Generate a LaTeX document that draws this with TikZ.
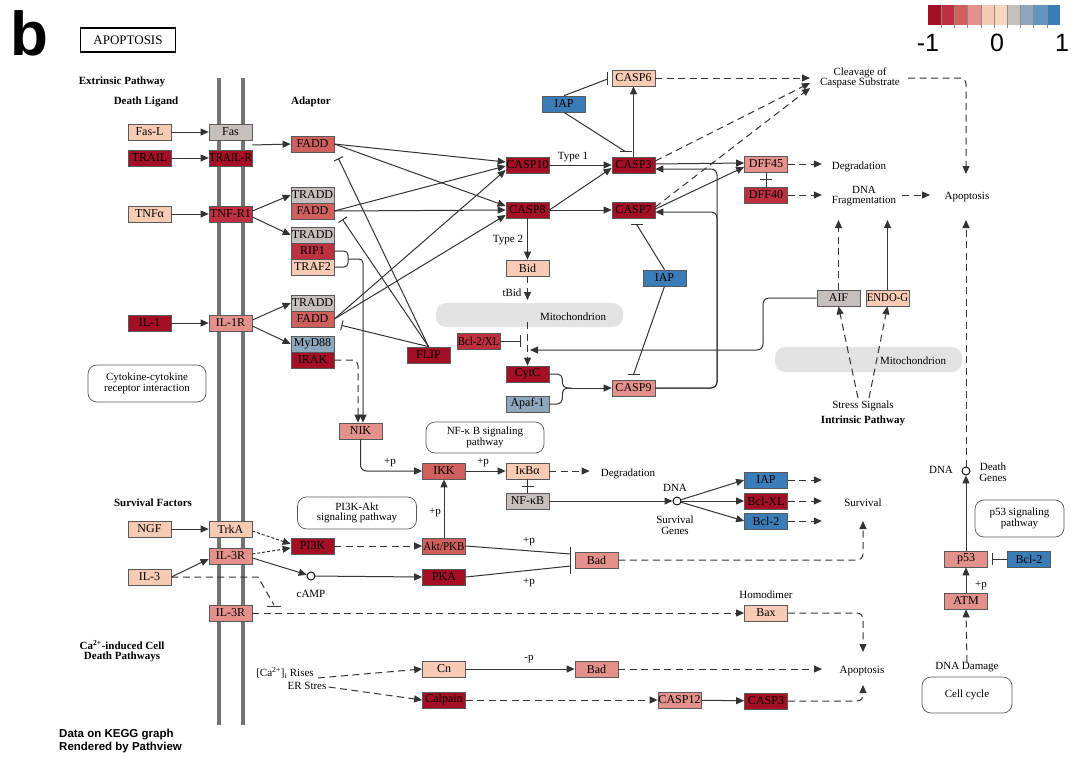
\documentclass[tikz,border=0pt]{standalone}
\usepackage{fontspec}
\usepackage{graphicx}
\setmainfont{Liberation Serif}
\newfontfamily\lsans{Liberation Sans}
\usetikzlibrary{arrows.meta,calc}
\definecolor{dk}{HTML}{A50F25}
\definecolor{r2}{HTML}{BE2F3F}
\definecolor{r3}{HTML}{D0605E}
\definecolor{r4}{HTML}{E3918A}
\definecolor{pe}{HTML}{F8CCB4}
\definecolor{pf}{HTML}{FAD5C2}
\definecolor{gy}{HTML}{C7BFBD}
\definecolor{gb}{HTML}{8EA7BC}
\definecolor{mb}{HTML}{6195C2}
\definecolor{bl}{HTML}{3A7DB8}
\definecolor{lk}{HTML}{333333}
\newcommand{\sq}[2]{\scalebox{#1}[1]{#2}}
\begin{document}
\begin{tikzpicture}[x=1pt,y=-1pt,
  gene/.style={draw=black!65, line width=0.7pt, minimum width=43pt, minimum height=16pt, inner sep=0pt, font=\fontsize{12}{12}\selectfont},
  lbl/.style={font=\fontsize{11}{10.5}\selectfont, inner sep=0pt, align=center},
  blbl/.style={font=\fontsize{11}{10.5}\selectfont\bfseries, inner sep=0pt, align=center},
  pathbox/.style={draw=black!65, line width=0.7pt, rounded corners=9pt, font=\fontsize{11}{10.5}\selectfont, align=center, inner sep=0pt},
  con/.style={draw=lk, line width=1pt},
  act/.style={con, -{Triangle[length=8pt,width=7pt]}},
  dsh/.style={dash pattern=on 7pt off 4.5pt},
  sdsh/.style={dash pattern=on 3pt off 2pt},
  mito/.style={fill=black!11, draw=none, rounded corners=10pt},
  smallc/.style={circle, draw=black, line width=0.9pt, inner sep=0pt, minimum size=8pt},
  memb/.style={draw=black!55, line width=3.6pt}
]
\useasboundingbox (0,0) rectangle (1080,764);
\fill[white] (0,0) rectangle (1080,764);

% ---------- header ----------
\node[font=\lsans\bfseries\fontsize{62}{62}\selectfont, inner sep=0pt] (blab) at (29,33) {b};
\node[draw=black, line width=1.6pt, minimum width=95pt, minimum height=24pt, inner sep=0pt, font=\fontsize{13}{14}\selectfont] (apobox) at (128,40) {APOPTOSIS};

% legend
\foreach \c [count=\i from 0] in {dk,r2,r3,r4,pe,pf,gy,gb,mb,bl}{
  \fill[\c] (928+13.2*\i,5) rectangle ++(13.2,20);
}
\foreach \i in {1,...,9}{ \draw[black!45, line width=0.5pt] (928+13.2*\i,5) -- ++(0,23); }
\node[font=\lsans\fontsize{25}{25}\selectfont, inner sep=0pt] (lgm) at (928,43) {-1};
\node[font=\lsans\fontsize{25}{25}\selectfont, inner sep=0pt] (lgz) at (997,43) {0};
\node[font=\lsans\fontsize{25}{25}\selectfont, inner sep=0pt] (lgp) at (1062,43) {1};

% ---------- background shapes ----------
\draw[memb] (219,78) -- (219,725);
\draw[memb] (243,78) -- (243,725);
\fill[mito] (436,303) rectangle (623,327);
\fill[mito] (775,347) rectangle (962,372);
\node[lbl] (mitoa) at (573,317) {Mitochondrion};
\node[lbl] (mitob) at (913,361) {Mitochondrion};

% ---------- text labels ----------
\node[blbl] (extp) at (122,82) {Extrinsic Pathway};
\node[blbl] (dlig) at (146,102) {Death Ligand};
\node[blbl] (adap) at (311,102) {Adaptor};
\node[blbl] (survf) at (153,503) {Survival Factors};
\node[blbl] (cadp) at (122,651) {Ca\textsuperscript{2+}-induced Cell\\Death Pathways};
\node[lbl] (clv) at (860,78) {Cleavage of\\Caspase Substrate};
\node[lbl] (deg1) at (859,167) {Degradation};
\node[lbl] (dnafrag) at (864,196) {DNA\\Fragmentation};
\node[lbl] (apo1) at (967,197) {Apoptosis};
\node[lbl] (stress) at (863,406) {Stress Signals};
\node[blbl] (intp) at (863,421) {Intrinsic Pathway};
\node[lbl] (dnaa) at (941,470) {DNA};
\node[lbl] (dgenes) at (993,472) {Death\\Genes};
\node[lbl] (deg2) at (628,474) {Degradation};
\node[lbl] (dnab) at (675,488) {DNA};
\node[lbl] (sgenes) at (675,525) {Survival\\Genes};
\node[lbl] (surv) at (863,503) {Survival};
\node[lbl] (homod) at (766,595) {Homodimer};
\node[lbl] (apo2) at (862,671) {Apoptosis};
\node[lbl] (dnadmg) at (967,667) {DNA Damage};
\node[lbl] (camplab) at (311,594) {cAMP};
\node[lbl] (carise) at (285,673) {[Ca\textsuperscript{2+}]\textsubscript{i} Rises};
\node[lbl] (erst) at (307,686) {ER Stres};
\node[lbl] (type1) at (573,157) {Type 1};
\node[lbl] (type2) at (508,240) {Type 2};
\node[lbl] (tbid) at (512,293) {tBid};
\node[lbl] (p1) at (390,463) {+p};
\node[lbl] (p2) at (483,463) {+p};
\node[lbl] (p3) at (435,513) {+p};
\node[lbl] (p4) at (529,542) {+p};
\node[lbl] (p5) at (529,583) {+p};
\node[lbl] (p6) at (981,586) {+p};
\node[lbl] (m1) at (529,659) {-p};
\node[anchor=west, font=\lsans\bfseries\fontsize{11.5}{13.5}\selectfont, align=left, inner sep=0pt] (credit) at (59,741) {Data on KEGG graph\\Rendered by Pathview};

% pathway boxes
\node[pathbox, minimum width=118pt, minimum height=37pt] (cytok) at (147,383.5) {Cytokine-cytokine\\receptor interaction};
\node[pathbox, minimum width=118pt, minimum height=31pt] (nfkbp) at (485,437.5) {NF-κ B signaling\\pathway};
\node[pathbox, minimum width=119pt, minimum height=32pt] (pi3kp) at (357,513) {PI3K-Akt\\signaling pathway};
\node[pathbox, minimum width=89pt, minimum height=37pt] (p53p) at (1019.5,518.5) {p53 signaling\\pathway};
\node[pathbox, minimum width=90pt, minimum height=36pt] (ccyc) at (967,695) {Cell cycle};

% ---------- gene nodes ----------
\node[gene,fill=pe] (fasl) at (149.5,132) {Fas-L};
\node[gene,fill=gy] (fas) at (230.5,132) {Fas};
\node[gene,fill=dk] (trail) at (149.5,158) {TRAIL};
\node[gene,fill=dk] (trailr) at (230.5,158) {\sq{0.9}{TRAIL-R}};
\node[gene,fill=pe] (tnfa) at (149.5,214) {TNFα};
\node[gene,fill=r2] (tnfr1) at (230.5,214) {TNF-R1};
\node[gene,fill=dk] (il1) at (149.5,323) {IL-1};
\node[gene,fill=r4] (il1r) at (230.5,323) {IL-1R};
\node[gene,fill=pe] (ngf) at (149.5,529) {NGF};
\node[gene,fill=pe] (trka) at (230.5,529) {TrkA};
\node[gene,fill=r4] (il3ra) at (230.5,556) {IL-3R};
\node[gene,fill=pe] (il3) at (149.5,577) {IL-3};
\node[gene,fill=r4] (il3rb) at (230.5,613) {IL-3R};

\node[gene,fill=r3] (fadda) at (312.5,144) {FADD};
\node[gene,fill=gy] (tradda) at (312.5,195) {TRADD};
\node[gene,fill=r3] (faddb) at (312.5,211) {FADD};
\node[gene,fill=gy] (traddb) at (312.5,235) {TRADD};
\node[gene,fill=r2] (rip1) at (312.5,251) {RIP1};
\node[gene,fill=pe] (traf2) at (312.5,267) {TRAF2};
\node[gene,fill=gy] (traddc) at (312.5,303) {TRADD};
\node[gene,fill=r3] (faddc) at (312.5,319) {FADD};
\node[gene,fill=gb] (myd88) at (312.5,344) {MyD88};
\node[gene,fill=dk] (irak) at (312.5,360) {IRAK};

\node[gene,fill=dk] (flip) at (428.5,355) {FLIP};
\node[gene,fill=dk] (casp10) at (527.5,165) {CASP10};
\node[gene,fill=dk] (casp8) at (527.5,210) {CASP8};
\node[gene,fill=dk] (casp3) at (633.5,165) {CASP3};
\node[gene,fill=dk] (casp7) at (633.5,210) {CASP7};
\node[gene,fill=pe] (casp6) at (633.5,78) {CASP6};
\node[gene,fill=bl] (iapa) at (564,104) {IAP};
\node[gene,fill=r4] (dff45) at (766,164) {DFF45};
\node[gene,fill=r2] (dff40) at (766,195) {DFF40};
\node[gene,fill=pe] (bid) at (527.5,268) {Bid};
\node[gene,fill=bl] (iapb) at (664.5,278) {IAP};
\node[gene,fill=r2] (bcl2xl) at (478.5,341) {\sq{0.9}{Bcl-2/XL}};
\node[gene,fill=dk] (cytc) at (527.5,374) {CytC};
\node[gene,fill=gb] (apaf) at (527.5,404) {Apaf-1};
\node[gene,fill=r4] (casp9) at (633.5,388) {CASP9};
\node[gene,fill=gy] (aif) at (838.5,298) {AIF};
\node[gene,fill=pe] (endog) at (887.5,298) {\sq{0.9}{ENDO-G}};
\node[gene,fill=r4] (nik) at (360.5,431) {NIK};
\node[gene,fill=r3] (ikk) at (444,471) {IKK};
\node[gene,fill=pe] (ikba) at (527.5,471) {IκBα};
\node[gene,fill=gy] (nfkb) at (527.5,501) {NF-κB};
\node[gene,fill=bl] (iapc) at (766,480) {IAP};
\node[gene,fill=dk] (bclxl) at (766,501) {Bcl-XL};
\node[gene,fill=bl] (bcl2a) at (766,521) {Bcl-2};
\node[gene,fill=dk] (pi3k) at (312.5,546) {PI3K};
\node[gene,fill=r3] (akt) at (444,546) {\sq{0.92}{Akt/PKB}};
\node[gene,fill=dk] (pka) at (444,577) {PKA};
\node[gene,fill=r4] (bada) at (596.5,560) {Bad};
\node[gene,fill=pe] (bax) at (766,613) {Bax};
\node[gene,fill=pe] (cn) at (444,669) {Cn};
\node[gene,fill=r4] (badb) at (596.5,669) {Bad};
\node[gene,fill=dk] (calpain) at (444,700) {Calpain};
\node[gene,fill=r4] (casp12) at (679.5,700) {CASP12};
\node[gene,fill=dk] (casp3b) at (766,701) {CASP3};
\node[gene,fill=r4] (p53) at (966,559) {p53};
\node[gene,fill=bl] (bcl2b) at (1029,559) {Bcl-2};
\node[gene,fill=r4] (atm) at (966,601) {ATM};

\node[smallc] (dnac) at (677,501) {};
\node[smallc] (camp) at (311,576) {};
\node[smallc] (dgc) at (966,471) {};

% free-end coordinates
\coordinate (clvin1) at (810,78);
\coordinate (clvin2) at (810,83);
\coordinate (clvin3) at (810,88);
\coordinate (clvout) at (908,78);
\coordinate (apo1top) at (966,174);
\coordinate (apo1bot) at (966,220);
\coordinate (apo1left) at (930,195);
\coordinate (dfin) at (838.5,220);
\coordinate (dfin2) at (887.5,220);
\coordinate (c9v) at (717,300);
\coordinate (aifv) at (763,320);
\coordinate (mitoin) at (530,350);
\coordinate (tbidin) at (527.5,300);
\coordinate (tbidout) at (527.5,322);
\coordinate (stra) at (858,398);
\coordinate (strb) at (869,398);
\coordinate (survin) at (863,521);
\coordinate (apo2a) at (863,652);
\coordinate (apo2b) at (822,669);
\coordinate (apo2c) at (863,685);
\coordinate (rtj) at (348,259);

% ---------- connectors ----------
\draw[act] (fasl) -- (fas);
\draw[act] (trail) -- (trailr);
\draw[act] (tnfa) -- (tnfr1);
\draw[act] (il1) -- (il1r);
\draw[act] (ngf) -- (trka);
\draw[act] (il3.east) -- ($(il3ra.west)+(0,3)$);
\draw[act] ($(fas.south east)!0.5!(trailr.north east)$) -- (fadda.west);
\draw[act] ($(tnfr1.east)+(0,-3)$) -- (tradda.west);
\draw[act] ($(tnfr1.east)+(0,3)$) -- (traddb.west);
\draw[act] ($(il1r.east)+(0,-3)$) -- (traddc.west);
\draw[act] ($(il1r.east)+(0,3)$) -- (myd88.west);

\draw[act] (fadda.east) -- ($(casp10.west)+(0,-3)$);
\draw[act] (fadda.east) -- ($(casp8.west)+(0,-4)$);
\draw[act] (faddb.east) -- ($(casp10.west)+(0,1)$);
\draw[act] (faddb.east) -- (casp8.west);
\draw[act] (faddc.east) -- ($(casp10.west)+(0,5)$);
\draw[act] (faddc.east) -- ($(casp8.west)+(0,5)$);

\draw[con,-{Bar[width=10pt]}] (flip.north) -- ($(fadda.south east)+(4,6)$);
\draw[con,-{Bar[width=10pt]}] (flip.north) -- ($(faddb.south east)+(8,0)$);
\draw[con,-{Bar[width=10pt]}] (flip.north) -- ($(faddc.south east)+(7,-2)$);

\draw[con,rounded corners=4pt] (rip1.east) -| (rtj);
\draw[con,rounded corners=4pt] (traf2.east) -| (rtj);
\draw[act,rounded corners=4pt] (rtj) -| ($(nik.north)+(2.5,0)$);
\draw[act,dsh,rounded corners=6pt] (irak.east) -| ($(nik.north)+(-2.5,0)$);
\draw[act,rounded corners=6pt] (nik.south) |- (ikk.west);
\draw[act] (ikk) -- (ikba);
\draw[act,dsh] (ikba.east) -- ($(deg2.west)+(-11,-3)$);
\draw[con] (ikba.south) -- (nfkb.north);
\draw[con] ($(ikba.south)!0.5!(nfkb.north)+(-6,0)$) -- ++(12,0);
\draw[act] (nfkb) -- (dnac);
\draw[act] (dnac) -- (iapc.west);
\draw[act] (dnac) -- (bclxl.west);
\draw[act] (dnac) -- (bcl2a.west);
\draw[act,dsh] (iapc.east) -- ++(34,0);
\draw[act,dsh] (bclxl.east) -- ++(34,0);
\draw[act,dsh] (bcl2a.east) -- ++(34,0);

\draw[act] (akt.north) -- (ikk.south);
\draw[con] (akt.east) -- ($(bada.west)+(-4,-6)$);
\draw[con] (pka.east) -- ($(bada.west)+(-4,6)$);
\draw[con] ($(bada.west)+(-4,-13)$) -- ($(bada.west)+(-4,14)$);
\draw[act,dsh] (pi3k) -- (akt);
\draw[act] (camp) -- (pka.west);
\draw[act,sdsh] ($(trka.east)+(0,2)$) -- ($(pi3k.west)+(0,-2)$);
\draw[act,sdsh] ($(il3ra.east)+(0,-2)$) -- ($(pi3k.west)+(0,2)$);
\draw[act] ($(il3ra.east)+(0,2)$) -- (camp);
\draw[con,dsh] (il3.east) -- (258,577) -- (274,605);
\draw[con] (267,606) -- (281,606);
\draw[act,dsh] (il3rb) -- (bax);
\draw[act,dsh,rounded corners=6pt] (bax.east) -| (apo2a);
\draw[act,dsh,rounded corners=6pt] (bada.east) -| (survin);
\draw[act,dsh,rounded corners=6pt] (casp3b.east) -| (apo2c);
\draw[act,dsh] (badb.east) -- (apo2b);
\draw[act,dsh] ($(carise.east)+(4,5)$) -- (cn.west);
\draw[act,dsh] ($(erst.east)+(2,1)$) -- (calpain.west);
\draw[act] (cn) -- (badb);
\draw[act,dsh] (calpain) -- (casp12);
\draw[act] (casp12) -- (casp3b);

\draw[act] (atm) -- (p53);
\draw[act,dsh] (dnadmg.north) -- (atm.south);
\draw[con] (bcl2b.west) -- ($(p53.east)+(5,0)$);
\draw[con] ($(p53.east)+(5,-6)$) -- ++(0,12);
\draw[act] (p53.north) -- (dgc.south);
\draw[act,dsh] (dgc.north) -- (apo1bot);
\draw[act,dsh,rounded corners=6pt] (clvout) -| (apo1top);

\draw[act,dsh] (casp6.east) -- (clvin1);
\draw[act,dsh] ($(casp3.east)+(0,-4)$) -- (clvin2);
\draw[act,dsh] ($(casp7.east)+(0,-3)$) -- (clvin3);
\draw[act] (casp3.north) -- (casp6.south);
\draw[con] (iapa.north) -- ($(casp6.west)+(-4,1)$);
\draw[con] ($(casp6.west)+(-4,-6)$) -- ++(0,13);
\draw[con] (iapa.south) -- ($(casp3.north)+(-8,-5)$);
\draw[con] ($(casp3.north)+(-14,-5)$) -- ++(12,0);
\draw[act] (casp10) -- (casp3);
\draw[act] (casp8.east) -- ($(casp3.west)+(0,3)$);
\draw[act] (casp8) -- (casp7);
\draw[act] (casp8) -- (bid);
\draw[act] ($(casp3.east)+(0,-1)$) -- ($(dff45.west)+(0,-1)$);
\draw[act] ($(casp7.east)+(0,-1)$) -- ($(dff45.west)+(0,3)$);
\draw[act,rounded corners=6pt] (casp9.east) -| (c9v) |- ($(casp3.east)+(0,4)$);
\draw[act,rounded corners=6pt] (casp9.east) -| (c9v) |- ($(casp7.east)+(0,2)$);
\draw[con] (dff45.south) -- (dff40.north);
\draw[con] ($(dff45.south)!0.5!(dff40.north)+(-6,0)$) -- ++(12,0);
\draw[act,dsh] (dff45.east) -- ++(34,0);
\draw[act,dsh] (dff40.east) -- ++(34,0);
\draw[act,dsh] ($(dnafrag.east)+(6,-1)$) -- (apo1left);
\draw[act,dsh] (aif.north) -- (dfin);
\draw[act] (endog.north) -- (dfin2);
\draw[act,dsh] (stra) -- (aif.south);
\draw[act,dsh] (strb) -- (endog.south);
\draw[act,rounded corners=6pt] (aif.west) -| (aifv) |- (mitoin);
\draw[act,dsh] (bid.south) -- (tbidin);
\draw[act,dsh] (tbidout) -- (cytc.north);
\draw[con] (bcl2xl.east) -- ($(bcl2xl.east)+(20,0)$);
\draw[con] ($(bcl2xl.east)+(20,-6)$) -- ++(0,12);
\draw[con,rounded corners=5pt] (cytc.east) -- ++(13,0) -- ++(0,14) -- ++(9,0);
\draw[con,rounded corners=5pt] (apaf.east) -- ++(13,0) -- ++(0,-16) -- ++(9,0);
\draw[act] ($(cytc.east)+(22,14)$) -- (casp9.west);
\draw[con] (iapb.north) -- ($(casp7.south)+(3,6)$);
\draw[con] ($(casp7.south)+(-3,6)$) -- ++(12,0);
\draw[con] (iapb.south) -- ($(casp9.north)+(0,-5)$);
\draw[con] ($(casp9.north)+(-6,-5)$) -- ++(12,0);
\end{tikzpicture}
\end{document}
